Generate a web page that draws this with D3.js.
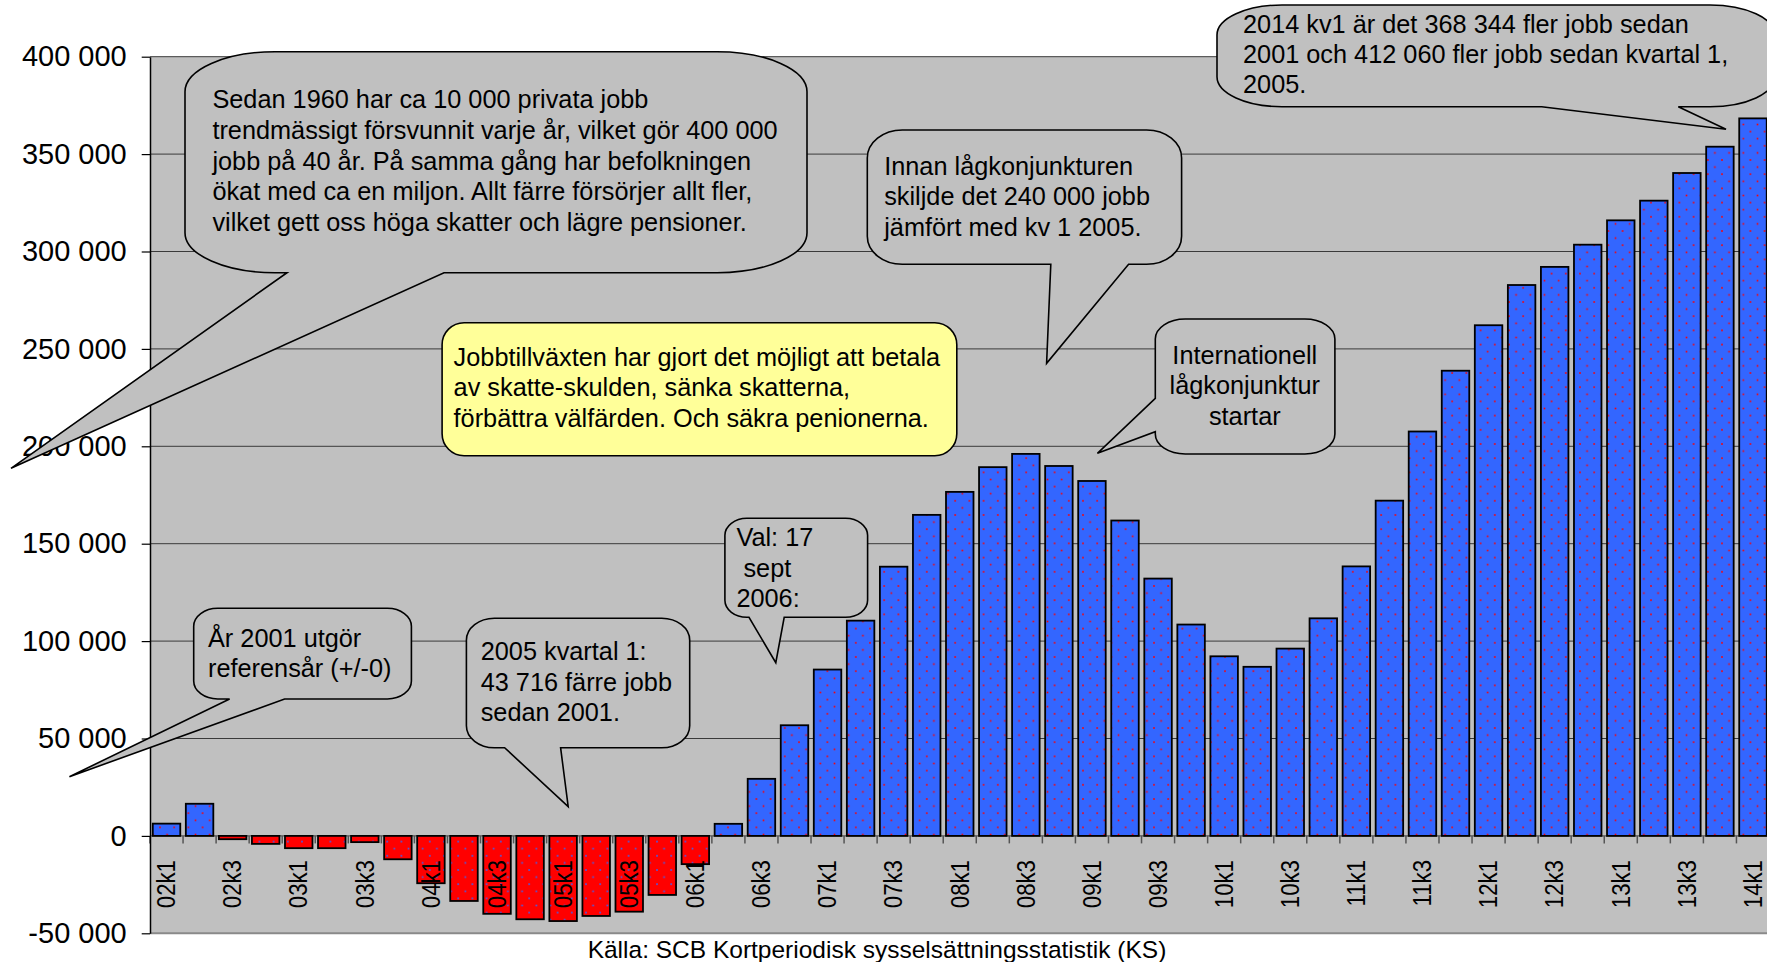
<!DOCTYPE html>
<html><head><meta charset="utf-8">
<script src="https://cdn.jsdelivr.net/npm/d3@7"></script>
<style>html,body{margin:0;padding:0;background:#fff;overflow:hidden}text{font-family:"Liberation Sans",Arial,sans-serif;white-space:pre}</style>
</head><body><svg id="c" width="1767" height="962"></svg>
<script>
// ---------- data ----------
const categories = ["02k1","02k2","02k3","02k4","03k1","03k2","03k3","03k4","04k1","04k2","04k3","04k4","05k1","05k2","05k3","05k4","06k1","06k2","06k3","06k4","07k1","07k2","07k3","07k4","08k1","08k2","08k3","08k4","09k1","09k2","09k3","09k4","10k1","10k2","10k3","10k4","11k1","11k2","11k3","11k4","12k1","12k2","12k3","12k4","13k1","13k2","13k3","13k4","14k1"];
const values = [6300,16500,-1700,-4100,-6300,-6300,-3200,-12000,-24300,-33400,-40000,-42800,-43716,-41100,-38900,-30300,-14500,6200,29300,56800,85400,110500,138200,164800,176600,189300,196100,189900,182200,161900,132100,108500,92200,86800,96150,111700,138350,172100,207600,238800,262150,282800,292100,303500,316000,326100,340300,353800,368344];
const tickLabels = ["02k1","02k3","03k1","03k3","04k1","04k3","05k1","05k3","06k1","06k3","07k1","07k3","08k1","08k3","09k1","09k3","10k1","10k3","11k1","11k3","12k1","12k3","13k1","13k3","14k1"];
const yTicks = [-50000,0,50000,100000,150000,200000,250000,300000,350000,400000];
const sourceText = "Källa: SCB Kortperiodisk sysselsättningsstatistik (KS)";
const note1 = ["Sedan 1960 har ca 10 000 privata jobb","trendmässigt försvunnit varje år, vilket gör 400 000","jobb på 40 år. På samma gång har befolkningen","ökat med ca en miljon. Allt färre försörjer allt fler,","vilket gett oss höga skatter och lägre pensioner."];
const note2 = ["2014 kv1 är det 368 344 fler jobb sedan","2001 och 412 060 fler jobb sedan kvartal 1,","2005."];
const note3 = ["Innan lågkonjunkturen","skiljde det 240 000 jobb","jämfört med kv 1 2005."];
const note4 = ["Internationell","lågkonjunktur","startar"];
const note5 = ["Jobbtillväxten har gjort det möjligt att betala","av skatte-skulden, sänka skatterna,","förbättra välfärden. Och säkra penionerna."];
const note6 = ["Val: 17"," sept","2006:"];
const note7 = ["År 2001 utgör","referensår (+/-0)"];
const note8 = ["2005 kvartal 1:","43 716 färre jobb","sedan 2001."];

// ---------- layout ----------
const svg = d3.select("#c");
const L = 150, R = 1769.5, T = 56.7, B = 933.3;
const x = d3.scaleBand().domain(categories).range([L, R]).paddingInner(0.168).paddingOuter(0.084);
const y = d3.scaleLinear().domain([-50000, 400000]).range([B, T]);
const fmt = d3.formatLocale({decimal: ",", thousands: " ", grouping: [3], currency: ["", ""], minus: "-"}).format(",d");

const defs = svg.append("defs");
function pat(id, bg, dot) {
  const p = defs.append("pattern").attr("id", id).attr("patternUnits", "userSpaceOnUse")
    .attr("width", 14.2).attr("height", 14.2);
  p.append("rect").attr("width", 14.2).attr("height", 14.2).attr("fill", bg);
  p.append("rect").attr("x", 3).attr("y", 3).attr("width", 1.6).attr("height", 1.6).attr("fill", dot);
  p.append("rect").attr("x", 10.1).attr("y", 10.1).attr("width", 1.6).attr("height", 1.6).attr("fill", dot);
}
pat("pb", "#3366ff", "#ff0000");
pat("pr", "#ff0000", "#3366ff");

// plot background
svg.append("rect").attr("x", L).attr("y", T).attr("width", R - L).attr("height", B - T).attr("fill", "#c0c0c0");

// gridlines
svg.append("g").selectAll("line").data(yTicks).join("line")
  .attr("x1", L).attr("x2", R).attr("y1", d => y(d)).attr("y2", d => y(d))
  .attr("stroke", d => d === -50000 ? "#8a8a8a" : "#3a3a3a")
  .attr("stroke-width", d => d === -50000 ? 2 : 1);

// bars
svg.append("g").selectAll("rect").data(categories).join("rect")
  .attr("x", c => x(c))
  .attr("y", (c, i) => y(Math.max(0, values[i])))
  .attr("width", x.bandwidth())
  .attr("height", (c, i) => Math.abs(y(values[i]) - y(0)))
  .attr("fill", (c, i) => values[i] >= 0 ? "url(#pb)" : "url(#pr)")
  .attr("stroke", "#000").attr("stroke-width", 1.8);

// x axis ticks at band boundaries
const step = x.step();
svg.append("g").selectAll("line").data(categories).join("line")
  .attr("x1", c => x(c) - step * 0.084).attr("x2", c => x(c) - step * 0.084)
  .attr("y1", y(0)).attr("y2", y(0) + 7.5)
  .attr("stroke", "#555").attr("stroke-width", 1.5);

// x labels
svg.append("g").selectAll("text").data(tickLabels).join("text")
  .attr("transform", c => `translate(${x(c) + x.bandwidth() / 2},860) rotate(-90) scale(0.89,1)`)
  .attr("text-anchor", "end").attr("dy", "0.35em")
  .attr("font-size", 25).attr("fill", "#000").text(c => c);

// y axis
const ya = svg.append("g").attr("transform", `translate(${L},0)`)
  .call(d3.axisLeft(y).tickValues(yTicks).tickFormat(fmt).tickSize(8.3).tickSizeOuter(0).tickPadding(15));
ya.select(".domain").attr("stroke", "#000").attr("stroke-width", 1.5);
ya.selectAll(".tick line").attr("stroke", "#000").attr("stroke-width", 1.2);
ya.selectAll(".tick text").attr("font-size", 29).attr("fill", "#000")
  .attr("font-family", '"Liberation Sans",Arial,sans-serif');

// source
svg.append("text").attr("x", 877).attr("y", 958).attr("text-anchor", "middle")
  .attr("font-size", 24.5).attr("fill", "#000").text(sourceText);

// ---------- callouts ----------
function boxPath(b) {
  const {x0, y0, w, h, rx, ry} = b;
  const x1 = x0 + w, y1 = y0 + h;
  let p = `M${x0 + rx},${y0}H${x1 - rx}A${rx},${ry} 0 0 1 ${x1},${y0 + ry}V${y1 - ry}A${rx},${ry} 0 0 1 ${x1 - rx},${y1}`;
  if (b.bottom) {
    p += `H${b.bottom[1]}L${b.tip[0]},${b.tip[1]}L${b.bottom[0]},${y1}`;
  }
  p += `H${x0 + rx}A${rx},${ry} 0 0 1 ${x0},${y1 - ry}`;
  if (b.left) {
    p += `V${b.left[1]}L${b.tip[0]},${b.tip[1]}L${x0},${b.left[0]}`;
  }
  p += `V${y0 + ry}A${rx},${ry} 0 0 1 ${x0 + rx},${y0}Z`;
  return p;
}
function callout(b, lines, tx, tys, fill, anchor) {
  const g = svg.append("g");
  g.append("path").attr("d", boxPath(b)).attr("fill", fill || "#c0c0c0")
    .attr("stroke", "#000").attr("stroke-width", 1.6).attr("stroke-linejoin", "miter");
  g.selectAll("text").data(lines).join("text")
    .attr("x", tx).attr("y", (d, i) => tys[i]).attr("text-anchor", anchor || "start")
    .attr("font-size", 25.3).attr("fill", "#000").text(d => d);
}

callout({x0: 185, y0: 51.7, w: 622, h: 221, rx: 90, ry: 40, bottom: [287, 444], tip: [11, 468.3]},
  note1, 212.4, [108.3, 138.9, 169.5, 200.1, 230.7]);
callout({x0: 1217, y0: 5, w: 558, h: 101.7, rx: 65, ry: 30, bottom: [1541.7, 1678.3], tip: [1726, 129.3]},
  note2, 1243, [33.3, 63.3, 93.3]);
callout({x0: 867.3, y0: 130, w: 314.3, h: 134.3, rx: 35, ry: 28, bottom: [1050.8, 1128.6], tip: [1046.6, 363.3]},
  note3, 884.2, [174.5, 205, 235.5]);
callout({x0: 1155.3, y0: 319, w: 179.6, h: 135, rx: 30, ry: 20, left: [398.3, 431.7], tip: [1097.4, 453.3]},
  note4, 1244.8, [363.5, 394, 424.5], null, "middle");
callout({x0: 442.1, y0: 322.7, w: 514.7, h: 133, rx: 22, ry: 22},
  note5, 453.6, [365.7, 396, 426.5], "#ffff99");
callout({x0: 724.9, y0: 518.3, w: 142.7, h: 99, rx: 22, ry: 17, bottom: [749, 784.2], tip: [775.8, 662.7]},
  note6, 736.4, [546, 576.7, 607.3]);
callout({x0: 193.7, y0: 608.3, w: 217.7, h: 90.7, rx: 24, ry: 18, bottom: [229.6, 284.6], tip: [69.4, 776.7]},
  note7, 208, [646.7, 676.5]);
callout({x0: 466.4, y0: 618.3, w: 223.3, h: 129.4, rx: 28, ry: 22, bottom: [504.6, 560.6], tip: [568.2, 806.7]},
  note8, 480.7, [660, 690.7, 720.7]);
</script></body></html>
